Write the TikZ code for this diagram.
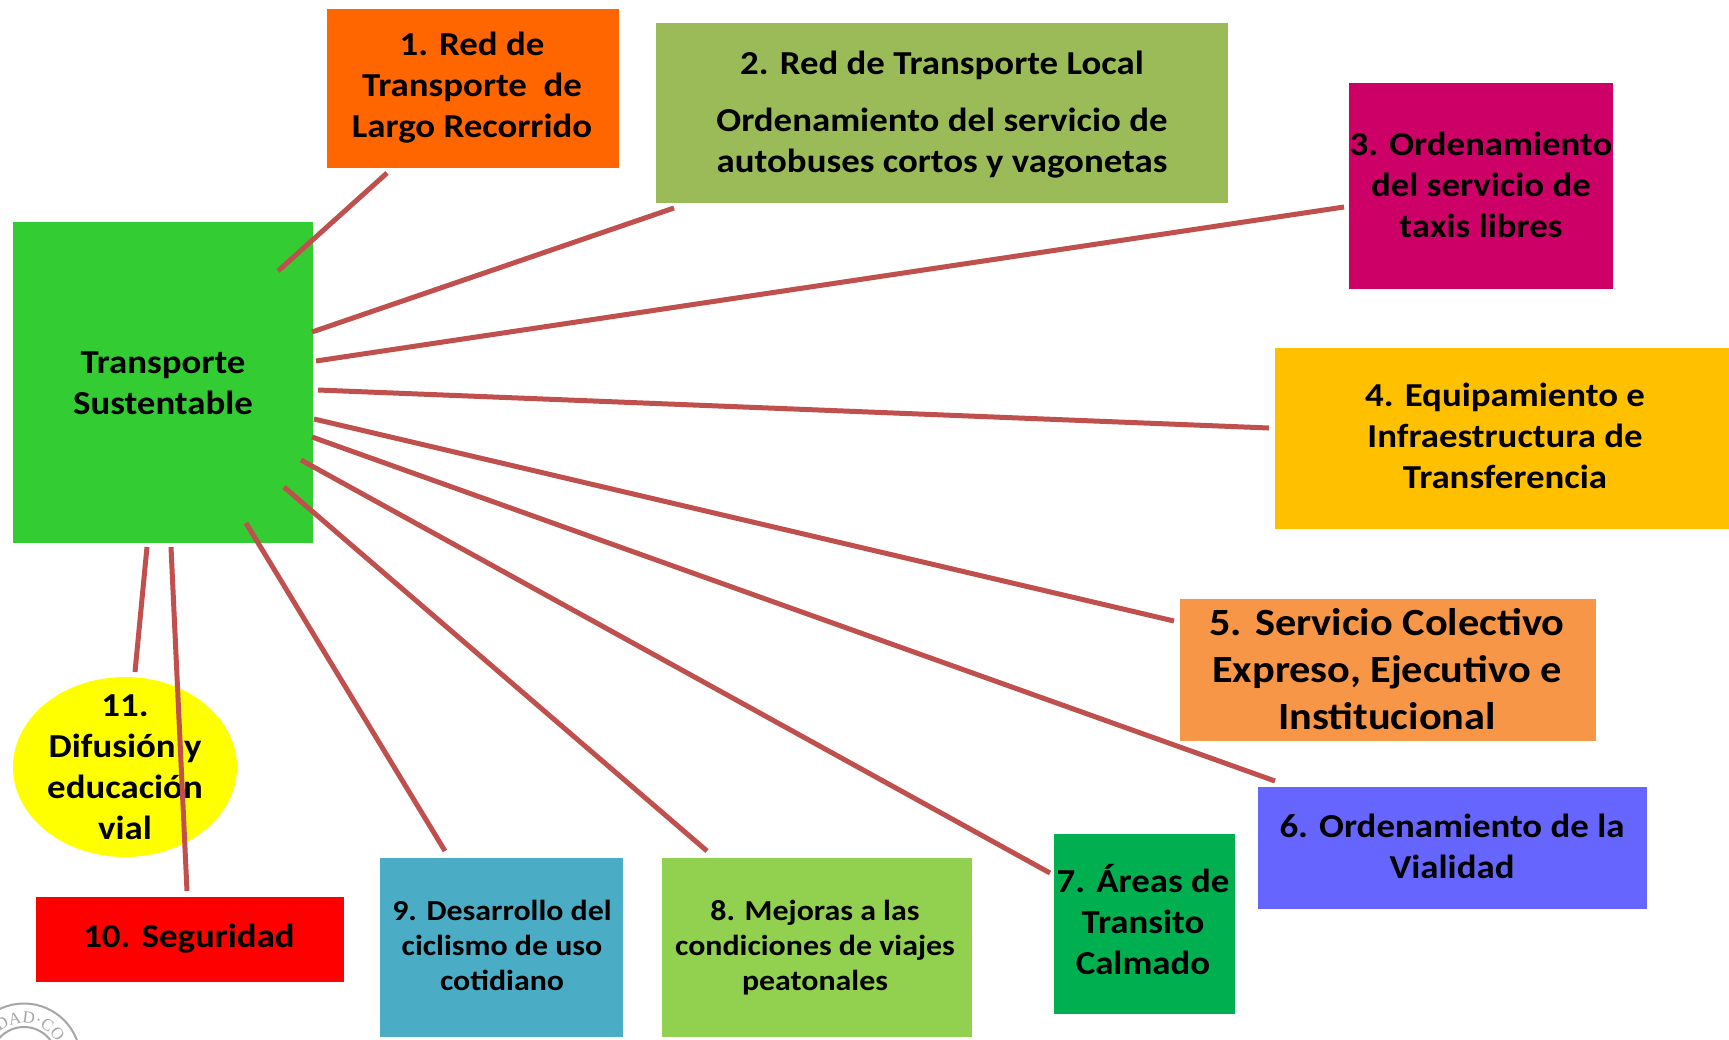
\documentclass[tikz,border=0pt]{standalone}
\usepackage{fontspec}
\setmainfont{Carlito}[BoldFeatures={FakeStretch=1.1}]
\newfontfamily\sealfont{Liberation Serif}
\usetikzlibrary{decorations.text,shapes.geometric}
\definecolor{linkred}{HTML}{C0504D}
\definecolor{sealgray}{HTML}{A6A6A6}
\tikzset{
  x=1pt,y=-1pt,
  panel/.style={draw=none,inner sep=0pt,outer sep=0pt,anchor=center},
  lbl/.style={inner sep=0pt,align=center,anchor=center,text=black,font=\fontsize{33.5}{41}\selectfont\bfseries},
  lblbig/.style={lbl,font=\fontsize{38.5}{47}\selectfont\bfseries},
  lblsmall/.style={lbl,font=\fontsize{29}{35}\selectfont\bfseries},
  link/.style={draw=linkred,line width=5pt},
}
\begin{document}
\begin{tikzpicture}
\useasboundingbox (0,0) rectangle (1729,1039);
\fill[white] (0,0) rectangle (1729,1039);
% seal, cut by the lower edge
\begin{scope}
\clip (0,0) rectangle (1729,1039);
\draw[sealgray,line width=2pt] (24,1060) circle (56.5);
\draw[sealgray,line width=2pt] (24,1060) circle (33);
\path[decorate,decoration={text along path,text align=center,text color=sealgray,text={|\sealfont\fontsize{17}{17}\selectfont|DAD·CO}}]
  (-12.4,1053.6) arc[start angle=190,end angle=370,radius=37];
\end{scope}
% panels
\node[panel,fill={rgb,255:red,51;green,204;blue,51},minimum width=300pt,minimum height=321pt] (hub) at (163,382.5) {};
\node[panel,fill={rgb,255:red,255;green,102;blue,0},minimum width=292pt,minimum height=159pt] (p1) at (473,88.5) {};
\node[panel,fill={rgb,255:red,155;green,187;blue,89},minimum width=572pt,minimum height=180pt] (p2) at (942,113) {};
\node[panel,fill={rgb,255:red,204;green,0;blue,102},minimum width=264pt,minimum height=206pt] (p3) at (1481,186) {};
\node[panel,fill={rgb,255:red,255;green,192;blue,0},minimum width=454pt,minimum height=181pt] (p4) at (1502,438) {};
\node[panel,fill={rgb,255:red,247;green,150;blue,70},minimum width=416pt,minimum height=142pt] (p5) at (1388,670) {};
\node[panel,fill={rgb,255:red,102;green,102;blue,255},minimum width=389pt,minimum height=122pt] (p6) at (1452.5,848) {};
\node[panel,fill={rgb,255:red,0;green,176;blue,80},minimum width=181pt,minimum height=180pt] (p7) at (1144.5,924) {};
\node[panel,fill={rgb,255:red,146;green,208;blue,80},minimum width=310pt,minimum height=179pt] (p8) at (817,947.5) {};
\node[panel,fill={rgb,255:red,75;green,172;blue,198},minimum width=243pt,minimum height=179pt] (p9) at (501.5,947.5) {};
\node[panel,fill={rgb,255:red,255;green,0;blue,0},minimum width=308pt,minimum height=85pt] (p10) at (190,939.5) {};
\node[panel,ellipse,fill={rgb,255:red,255;green,255;blue,0},minimum width=224pt,minimum height=180pt] (p11) at (125,767) {};
% connector ends
\coordinate (a1) at (387,173); \coordinate (b1) at (278,271);
\coordinate (a2) at (674,208); \coordinate (b2) at (312,332);
\coordinate (a3) at (1344,207); \coordinate (b3) at (316,361);
\coordinate (a4) at (1269,428); \coordinate (b4) at (318,390);
\coordinate (a5) at (1174,621); \coordinate (b5) at (314,419);
\coordinate (a6) at (1275,781); \coordinate (b6) at (312,437);
\coordinate (a7) at (1050,873); \coordinate (b7) at (301,460);
\coordinate (a8) at (707,851); \coordinate (b8) at (284,487);
\coordinate (a9) at (445,851); \coordinate (b9) at (246,523);
\coordinate (a10) at (187,891); \coordinate (b10) at (171,547);
\coordinate (a11) at (135,672); \coordinate (b11) at (147,547);
% texts
\node[lbl] (thub) at (163,383) {Transporte\\Sustentable};
\node[lbl] (t1) at (472,88) {1. Red de\\Transporte\ \ de\\Largo Recorrido};
\node[lbl] (t2a) at (942,65) {2. Red de Transporte Local};
\node[lbl] (t2b) at (942,143) {Ordenamiento del servicio de\\autobuses cortos y vagonetas};
\node[lbl] (t3) at (1481,185) {3. Ordenamiento\\del servicio de\\taxis libres};
\node[lbl] (t4) at (1505,436) {4. Equipamiento e\\Infraestructura de\\Transferencia};
\node[lblbig] (t5) at (1387,669) {5. Servicio Colectivo\\Expreso, Ejecutivo e\\Institucional};
\node[lbl] (t6) at (1452,846) {6. Ordenamiento de la\\Vialidad};
\node[lbl] (t7) at (1143,920) {7. Áreas de\\Transito\\Calmado};
\node[lblsmall] (t8) at (815,948) {8. Mejoras a las\\condiciones de viajes\\peatonales};
\node[lblsmall] (t9) at (502,945.5) {9. Desarrollo del\\ciclismo de uso\\cotidiano};
\node[lbl] (t10) at (189,939) {10. Seguridad};
\node[lbl] (t11) at (125,767) {11.\\Difusión y\\educación\\vial};
% connectors
\foreach \i in {1,...,11}{\draw[link] (a\i) -- (b\i);}
\end{tikzpicture}
\end{document}
